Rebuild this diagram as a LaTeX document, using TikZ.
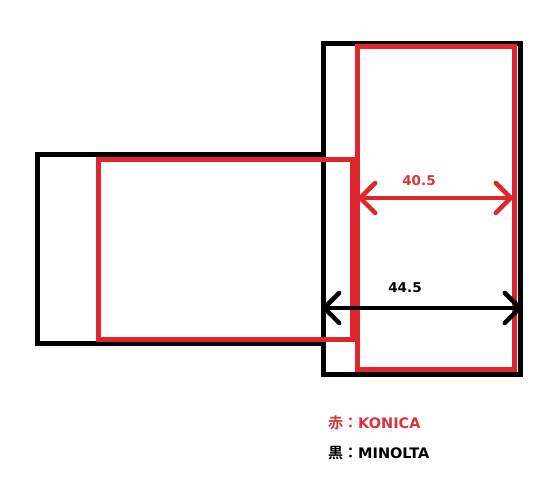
\documentclass[tikz,border=0pt]{standalone}
\usepackage{fontspec}
\newfontfamily\cjk{Noto Sans CJK JP}[BoldFont={* Bold}]
\newfontfamily\lat{DejaVu Sans}
\usetikzlibrary{arrows.meta}
\definecolor{pred}{RGB}{222,38,46}
\definecolor{tred}{RGB}{214,52,62}
\tikzset{
  blackbox/.style={draw=black, line width=5pt},
  redbox/.style={draw=pred, line width=5pt},
  dimline/.style={line width=4.5pt, {Straight Barb[length=15pt,width=30pt,line cap=round]}-{Straight Barb[length=15pt,width=30pt,line cap=round]}},
  lbl/.style={font=\lat\bfseries\fontsize{13.5}{16}\selectfont, inner sep=0pt},
  leg/.style={font=\lat\bfseries\fontsize{14.5}{16}\selectfont, inner sep=0pt, anchor=west},
}
\newcommand{\jp}[1]{{\cjk\bfseries\fontsize{15}{16}\selectfont #1}}
\begin{document}
\begin{tikzpicture}[x=1pt,y=-1pt]
\useasboundingbox (0,0) rectangle (550,486);
% MINOLTA (black)
\draw[blackbox] (37,155) rectangle (323,344);
\draw[blackbox] (323,44) rectangle (520,375);
% KONICA (red)
\draw[redbox] (98,160) rectangle (352,340);
\draw[redbox] (357,47) rectangle (514,370);
% dimensions
\coordinate (ra) at (357,198);
\coordinate (rb) at (514,198);
\draw[dimline, draw=pred] (ra) -- (rb);
\node[lbl, text=tred] (t405) at (419,181) {40.5};
\coordinate (ba) at (321,308);
\coordinate (bb) at (523,308);
\draw[dimline, draw=black] (ba) -- (bb);
\node[lbl, text=black] (t445) at (405,288) {44.5};
% legend
\node[leg, text=tred] (leg1) at (328,423) {\jp{赤：}KONICA};
\node[leg, text=black] (leg2) at (328,453) {\jp{黒：}MINOLTA};
\end{tikzpicture}
\end{document}
